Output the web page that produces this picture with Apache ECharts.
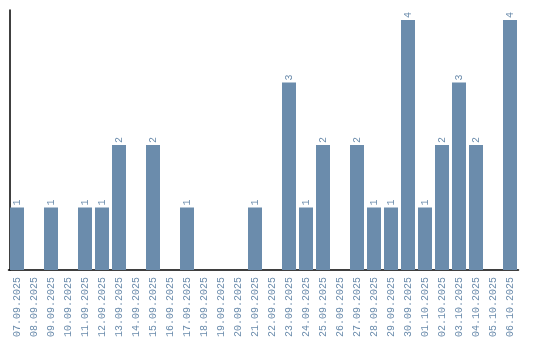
<!DOCTYPE html>
<html><head><meta charset="utf-8">
<script src="https://cdn.jsdelivr.net/npm/echarts@6/dist/echarts.min.js"></script>
<style>html,body{margin:0;padding:0;background:#fff}#c{width:540px;height:340px}</style>
</head><body><div id="c"></div>
<script>
const categories = ["07.09.2025","08.09.2025","09.09.2025","10.09.2025","11.09.2025","12.09.2025","13.09.2025","14.09.2025","15.09.2025","16.09.2025","17.09.2025","18.09.2025","19.09.2025","20.09.2025","21.09.2025","22.09.2025","23.09.2025","24.09.2025","25.09.2025","26.09.2025","27.09.2025","28.09.2025","29.09.2025","30.09.2025","01.10.2025","02.10.2025","03.10.2025","04.10.2025","05.10.2025","06.10.2025"];
const values = [1,0,1,0,1,1,2,0,2,0,1,0,0,0,1,0,3,1,2,0,2,1,1,4,1,2,3,2,0,4];
const color = '#6b8cac';
const chart = echarts.init(document.getElementById('c'), null, {renderer:'canvas'});
chart.setOption({
  animation:false,
  grid:{left:8.5, right:21.5, top:10, bottom:70, containLabel:false},
  xAxis:{type:'category', data:categories,
    axisLine:{lineStyle:{color:'#000', width:1.5}},
    axisTick:{show:false},
    axisLabel:{rotate:90, interval:0, color:color, fontFamily:'Liberation Mono', fontSize:10, margin:7}},
  yAxis:{type:'value', min:0, max:4.16, offset:-1.5,
    axisLine:{show:true, lineStyle:{color:'#000', width:1.5}},
    axisTick:{show:false}, axisLabel:{show:false}, splitLine:{show:false}},
  series:[{type:'bar', data:values, barWidth:14, itemStyle:{color:color},
    label:{show:true, position:'top', rotate:90, align:'left', verticalAlign:'middle', distance:2,
      color:color, fontFamily:'Liberation Mono', fontSize:10,
      formatter: p => p.value > 0 ? String(p.value) : ''}}]
});
</script></body></html>
